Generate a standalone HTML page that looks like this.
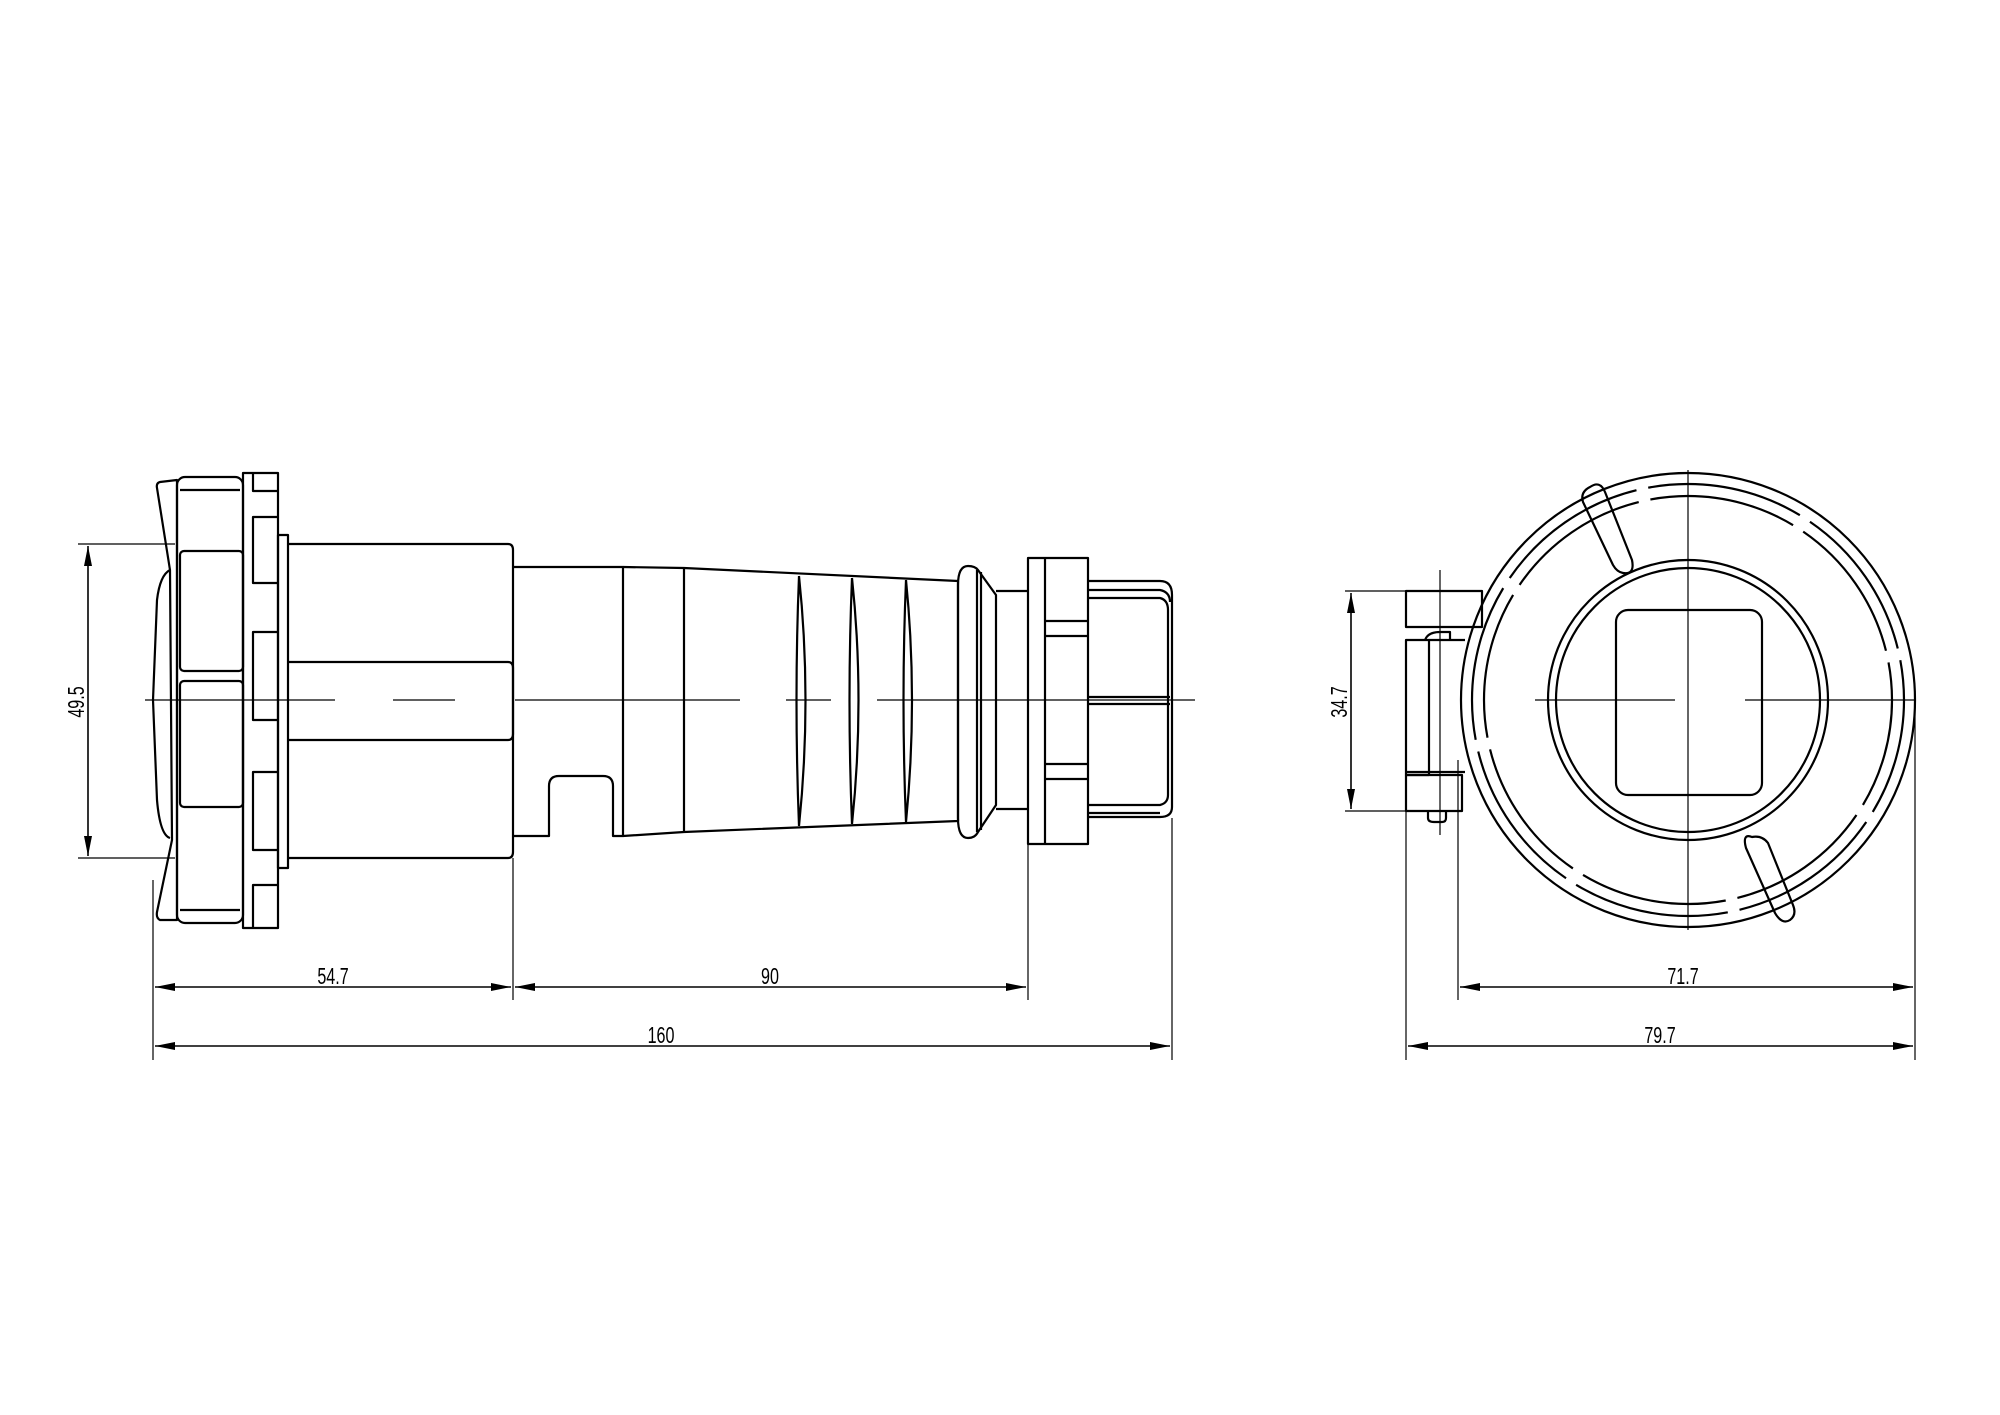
<!DOCTYPE html>
<html><head><meta charset="utf-8"><style>
html,body{margin:0;padding:0;background:#fff}
svg{display:block}
text{font-family:"Liberation Sans",sans-serif;font-size:23px;fill:#000}
</style></head><body>
<svg width="2000" height="1415" viewBox="0 0 2000 1415" xmlns="http://www.w3.org/2000/svg">
<defs>
<marker id="a" viewBox="0 0 20 8" refX="20" refY="4" markerWidth="26" markerHeight="8" markerUnits="userSpaceOnUse" orient="auto-start-reverse"><path d="M0,0 L20,4 L0,8 Z" fill="#000"/></marker>
</defs>
<g fill="none" stroke="#000" stroke-width="1.2">
<line x1="145" y1="700" x2="335" y2="700"/>
<line x1="393" y1="700" x2="455" y2="700"/>
<line x1="515" y1="700" x2="740" y2="700"/>
<line x1="786" y1="700" x2="831" y2="700"/>
<line x1="877" y1="700" x2="1195" y2="700"/>
<line x1="78" y1="544" x2="175" y2="544"/>
<line x1="78" y1="858" x2="175" y2="858"/>
<line x1="153" y1="880" x2="153" y2="1060"/>
<line x1="513" y1="858" x2="513" y2="1000"/>
<line x1="1028" y1="845" x2="1028" y2="1000"/>
<line x1="1172" y1="818" x2="1172" y2="1060"/>
<line x1="1345" y1="591" x2="1450" y2="591"/>
<line x1="1345" y1="811" x2="1450" y2="811"/>
<line x1="1406" y1="811" x2="1406" y2="1060"/>
<line x1="1458" y1="760" x2="1458" y2="1000"/>
<line x1="1915" y1="705" x2="1915" y2="1060"/>
<line x1="1440" y1="570" x2="1440" y2="835"/>
<line x1="1688" y1="470" x2="1688" y2="930"/>
<line x1="1535" y1="700" x2="1675" y2="700"/>
<line x1="1745" y1="700" x2="1915" y2="700"/>
</g>
<g fill="none" stroke="#000" stroke-width="1.6">
<line x1="88" y1="546" x2="88" y2="856" marker-start="url(#a)" marker-end="url(#a)"/>
<line x1="1351" y1="593" x2="1351" y2="809" marker-start="url(#a)" marker-end="url(#a)"/>
<line x1="155" y1="987" x2="511" y2="987" marker-start="url(#a)" marker-end="url(#a)"/>
<line x1="515" y1="987" x2="1026" y2="987" marker-start="url(#a)" marker-end="url(#a)"/>
<line x1="155" y1="1046" x2="1170" y2="1046" marker-start="url(#a)" marker-end="url(#a)"/>
<line x1="1460" y1="987" x2="1913" y2="987" marker-start="url(#a)" marker-end="url(#a)"/>
<line x1="1408" y1="1046" x2="1913" y2="1046" marker-start="url(#a)" marker-end="url(#a)"/>
</g>
<g transform="translate(333,984) scale(0.7,1)"><text text-anchor="middle">54.7</text></g>
<g transform="translate(770,984) scale(0.7,1)"><text text-anchor="middle">90</text></g>
<g transform="translate(661,1043) scale(0.7,1)"><text text-anchor="middle">160</text></g>
<g transform="translate(1683,984) scale(0.7,1)"><text text-anchor="middle">71.7</text></g>
<g transform="translate(1660,1043) scale(0.7,1)"><text text-anchor="middle">79.7</text></g>
<g transform="translate(84,702) rotate(-90) scale(0.7,1)"><text text-anchor="middle">49.5</text></g>
<g transform="translate(1347,702) rotate(-90) scale(0.7,1)"><text text-anchor="middle">34.7</text></g>

<g fill="none" stroke="#000" stroke-width="2.2" stroke-linejoin="round">
<path d="M160,482 L177,480 L177,920 L160,920 Q156,918 157,912 L172,840 L170,570 L157,488 Q156,483 160,482 Z"/>
<path d="M170,570 Q160,575 157,600 L153,700 L157,800 Q160,835 170,838"/>
<rect x="177" y="477" width="66" height="446" rx="8"/>
<path d="M180,490 Q182,490 240,490 M180,910 L240,910"/>
<rect x="180" y="551" width="63" height="120" rx="4"/>
<rect x="180" y="681" width="63" height="126" rx="4"/>
<path d="M243,473 L278,473 L278,928 L243,928 Z"/>
<path d="M253,473 L253,491 L278,491 M278,517 L253,517 L253,583 L278,583 M278,632 L253,632 L253,720 L278,720 M278,772 L253,772 L253,850 L278,850 M278,885 L253,885 L253,928"/>
<rect x="278" y="535" width="10" height="333"/>
<path d="M288,544 L508,544 Q513,544 513,550 L513,852 Q513,858 508,858 L288,858"/>
<path d="M288,662 L508,662 Q513,662 513,668 L513,734 Q513,740 508,740 L288,740"/>
<path d="M513,567 L623,567 L623,836 L613,836 L613,786 Q613,776 603,776 L559,776 Q549,776 549,786 L549,836 L513,836"/>
<path d="M623,567 L684,568 L958,581 L958,821 L684,832 L623,836"/>
<line x1="684" y1="568" x2="684" y2="832"/>
<path d="M799,576 Q812,700 799,826 M799,576 Q794,700 799,826"/>
<path d="M852,578 Q865,700 852,824 M852,578 Q847,700 852,824"/>
<path d="M906,580 Q918,700 906,822 M906,580 Q901,700 906,822"/>
<path d="M968,566 Q958,566 958,585 L958,818 Q958,838 968,838 Q975,838 978,832 L996,805 L996,595 L978,570 Q975,566 968,566 Z"/>
<line x1="977" y1="570" x2="977" y2="832"/><line x1="981" y1="572" x2="981" y2="830"/>
<path d="M996,591 L1028,591 M996,809 L1028,809"/>
<rect x="1028" y="558" width="60" height="286"/>
<line x1="1045" y1="558" x2="1045" y2="844"/>
<path d="M1045,621 L1088,621 M1045,636 L1088,636 M1045,764 L1088,764 M1045,779 L1088,779"/>
<path d="M1088,581 L1160,581 Q1172,581 1172,595 L1172,807 Q1172,817 1160,817 L1088,817"/>
<path d="M1088,590 L1160,590 Q1170,592 1170,602 M1088,598 L1160,598 Q1168,600 1168,610 L1168,795 Q1168,803 1160,805 L1088,805 M1088,813 L1160,813"/>
<path d="M1088,697 L1170,697 M1088,704 L1170,704"/>

<circle cx="1688" cy="700" r="227"/>
<circle cx="1688" cy="700" r="216" stroke-dasharray="157.6 12" stroke-dashoffset="40"/>
<circle cx="1688" cy="700" r="204" stroke-dasharray="148.2 12" stroke-dashoffset="38"/>
<circle cx="1688" cy="700" r="140"/>
<circle cx="1688" cy="700" r="132"/>
<rect x="1616" y="610" width="146" height="185" rx="12"/>
<path d="M1590,487 Q1600,480 1605,492 L1632,560 Q1635,575 1623,573 Q1617,572 1613,565 L1583,502 Q1580,492 1590,487 Z"/>
<path d="M1752,837 Q1742,833 1746,848 L1775,913 Q1782,925 1790,920 Q1797,915 1793,905 L1768,843 Q1762,835 1752,837 Z"/>
<rect x="1406" y="591" width="76" height="36"/>
<rect x="1406" y="640" width="23" height="135"/>
<line x1="1429" y1="640" x2="1465" y2="640"/>
<path d="M1425,640 Q1428,632 1440,632 L1450,632 L1450,640"/>
<rect x="1406" y="775" width="56" height="36"/>
<line x1="1406" y1="772" x2="1465" y2="772"/>
<path d="M1428,811 L1428,818 Q1428,822 1434,822 L1442,822 Q1446,822 1446,818 L1446,811"/>
</g>
</svg>
</body></html>
